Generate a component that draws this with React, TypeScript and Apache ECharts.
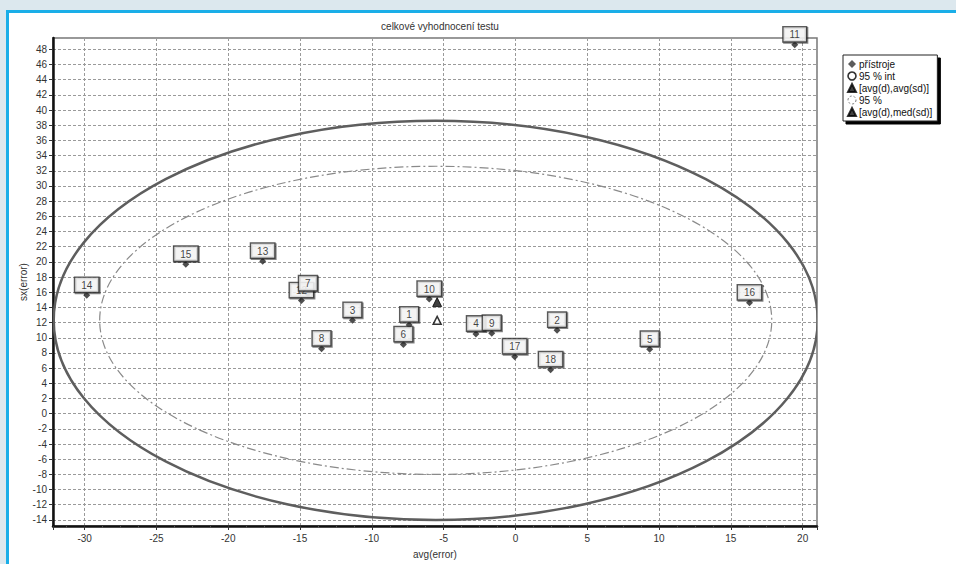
import React, { useEffect, useRef } from "react";
import * as echarts from "echarts";

// instrument results (label, avg(error), sx(error))
const pointLabels = ["1", "2", "3", "4", "5", "6", "8", "9", "10", "11", "12", "7", "13", "14", "15", "16", "17", "18"];
const pointX = [-7.4, 2.9, -11.35, -2.75, 9.35, -7.8, -13.5, -1.65, -6.0, 19.45, -14.9, -14.45, -17.6, -29.85, -22.95, 16.3, -0.05, 2.45];
const pointY = [11.7, 11.0, 12.3, 10.5, 8.5, 9.1, 8.55, 10.6, 15.1, 48.6, 14.9, 15.8, 20.1, 15.6, 19.7, 14.6, 7.5, 5.8];

// summary points
const avgAvgPoint = [-5.45, 14.7];
const avgMedPoint = [-5.45, 12.3];

// ellipses: [centerX, centerY, semiAxisX, semiAxisY]
const ellipseInt = [-5.55, 12.3, 26.6, 26.3];
const ellipse95 = [-5.55, 12.3, 23.4, 20.3];

// axes
const xRange = [-32.2, 21.0];
const yRange = [-14.8, 49.5];

const seriesNames = ["přístroje", "95 % int", "[avg(d),avg(sd)]", "95 %", "[avg(d),med(sd)]"];
const titleText = "celkové vyhodnocení testu";
const xName = "avg(error)";
const yName = "sx(error)";

const FONT = "'Liberation Sans', Arial, sans-serif";

function ellipseRender(color: string, width: number, dash: number[] | null) {
  return (params: any, api: any) => {
    const c = api.coord([api.value(0), api.value(1)]);
    const s = api.size([api.value(2), api.value(3)]);
    return {
      type: "ellipse",
      shape: { cx: c[0], cy: c[1], rx: s[0], ry: s[1] },
      style: { fill: "none", stroke: color, lineWidth: width, lineDash: dash || undefined },
      silent: true,
    };
  };
}

export default function App() {
  const ref = useRef<HTMLDivElement>(null);
  useEffect(() => {
    if (!ref.current) return;
    const chart = echarts.init(ref.current, null, { renderer: "svg" });
    const points = pointLabels.map((n, i) => ({ name: n, value: [pointX[i], pointY[i]] }));
    const gridLine = { show: true, lineStyle: { color: "#9a9a9a", type: [3, 2], width: 1 } };
    chart.setOption({
      animation: false,
      backgroundColor: "transparent",
      textStyle: { fontFamily: FONT },
      title: {
        text: titleText,
        left: 435,
        top: 16,
        textAlign: "center",
        textStyle: { fontSize: 10, fontWeight: "normal", color: "#333", fontFamily: FONT },
      },
      legend: {
        orient: "vertical",
        left: 843,
        top: 55,
        padding: [4, 5, 4, 4],
        itemWidth: 8,
        itemHeight: 8,
        itemGap: 2,
        backgroundColor: "#fff",
        borderColor: "#222",
        borderWidth: 1,
        shadowColor: "#000",
        shadowOffsetX: 3,
        shadowOffsetY: 3,
        shadowBlur: 0,
        textStyle: { fontSize: 10, lineHeight: 10, color: "#111", fontFamily: FONT, padding: [0, 0, 0, -2] },
        selectedMode: false,
        data: [
          { name: seriesNames[0], icon: "diamond", itemStyle: { color: "#333" } },
          { name: seriesNames[1], icon: "circle", itemStyle: { color: "#fff", borderColor: "#333", borderWidth: 1.6 } },
          { name: seriesNames[2], icon: "triangle", itemStyle: { color: "#111" } },
          { name: seriesNames[3], icon: "circle", itemStyle: { color: "#fff", borderColor: "#777", borderWidth: 1, borderType: [2, 2] } },
          { name: seriesNames[4], icon: "triangle", itemStyle: { color: "#111" } },
        ],
      },
      grid: {
        left: 53,
        top: 38,
        right: 139,
        bottom: 37,
        show: true,
        backgroundColor: "#fff",
        borderColor: "#777",
        borderWidth: 1.5,
      },
      xAxis: {
        type: "value",
        min: xRange[0],
        max: xRange[1],
        splitNumber: 10,
        minInterval: 5,
        maxInterval: 5,
        name: xName,
        nameLocation: "middle",
        nameGap: 23,
        nameTextStyle: { fontSize: 10, color: "#333", fontFamily: FONT },
        axisLine: { show: true, onZero: false, lineStyle: { color: "#111", width: 2.5 } },
        axisTick: { show: true, length: 4, lineStyle: { color: "#333" } },
        minorTick: { show: true, splitNumber: 4, length: 2, lineStyle: { color: "#555" } },
        axisLabel: { fontSize: 10, color: "#333", margin: 7, showMinLabel: false, showMaxLabel: false, fontFamily: FONT },
        splitLine: gridLine,
      },
      yAxis: {
        type: "value",
        min: yRange[0],
        max: yRange[1],
        splitNumber: 32,
        minInterval: 2,
        maxInterval: 2,
        name: yName,
        nameLocation: "middle",
        nameGap: 25,
        nameMoveOverlap: false,
        nameTextStyle: { fontSize: 10, color: "#333", fontFamily: FONT },
        axisLine: { show: true, onZero: false, lineStyle: { color: "#111", width: 2.5 } },
        axisTick: { show: true, length: 4, lineStyle: { color: "#333" } },
        axisLabel: { fontSize: 10, color: "#333", margin: 6, showMinLabel: false, showMaxLabel: false, fontFamily: FONT },
        splitLine: gridLine,
      },
      series: [
        {
          name: seriesNames[1],
          type: "custom",
          clip: true,
          coordinateSystem: "cartesian2d",
          renderItem: ellipseRender("#5e5e5e", 2.5, null),
          encode: { x: 0, y: 1 },
          data: [ellipseInt],
          z: 2,
        },
        {
          name: seriesNames[3],
          type: "custom",
          clip: true,
          coordinateSystem: "cartesian2d",
          renderItem: ellipseRender("#8a8a8a", 1.2, [9, 3, 2, 3]),
          encode: { x: 0, y: 1 },
          data: [ellipse95],
          z: 2,
        },
        {
          name: seriesNames[0],
          type: "scatter",
          symbol: "diamond",
          symbolSize: 7,
          itemStyle: { color: "#222" },
          data: points,
          z: 3,
          label: {
            show: true,
            position: "top",
            distance: 0,
            formatter: "{b}",
            fontSize: 10,
            color: "#111",
            fontFamily: FONT,
            lineHeight: 11,
            backgroundColor: "#fff",
            borderColor: "#333",
            borderWidth: 1.4,
            padding: [2, 6, 1, 6],
            shadowColor: "rgba(0,0,0,0.6)",
            shadowOffsetX: 1,
            shadowOffsetY: 1,
            shadowBlur: 0,
          },
          emphasis: { disabled: true },
        },
        {
          name: seriesNames[2],
          type: "scatter",
          symbol: "triangle",
          symbolSize: [9, 9],
          itemStyle: { color: "#111", borderColor: "#000", borderWidth: 1 },
          data: [avgAvgPoint],
          z: 4,
        },
        {
          name: seriesNames[4],
          type: "scatter",
          symbol: "triangle",
          symbolSize: [8, 8],
          itemStyle: { color: "#fff", borderColor: "#000", borderWidth: 1.5 },
          data: [avgMedPoint],
          z: 4,
        },
      ],
    });
    return () => chart.dispose();
  }, []);

  return (
    <div style={{ position: "fixed", left: 0, top: 0, width: 956, height: 564, background: "#dce8ee", overflow: "hidden" }}>
      <div
        style={{
          position: "absolute",
          left: 6,
          top: 10,
          right: 0,
          bottom: 0,
          background: "#fff",
          borderTop: "3px solid #1aaee8",
          borderLeft: "3px solid #1aaee8",
        }}
      />
      <div ref={ref} style={{ position: "absolute", left: 0, top: 0, width: 956, height: 564 }} />
    </div>
  );
}
